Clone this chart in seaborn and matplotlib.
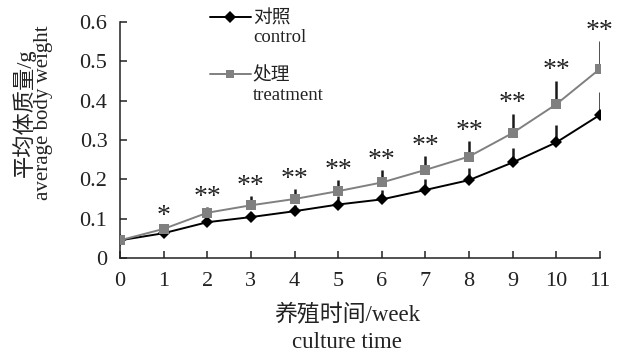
import numpy as np
import pandas as pd
import seaborn as sns
import matplotlib
matplotlib.use("Agg")
import matplotlib.pyplot as plt
from matplotlib.lines import Line2D
from matplotlib.ticker import FuncFormatter

# Weekly average body weight (g), mean and upper SD
weeks = [0, 1, 2, 3, 4, 5, 6, 7, 8, 9, 10, 11]
control = [0.045, 0.063, 0.091, 0.104, 0.119, 0.136, 0.149, 0.173, 0.198, 0.243, 0.294, 0.364]
treatment = [0.045, 0.074, 0.115, 0.134, 0.150, 0.170, 0.192, 0.224, 0.258, 0.318, 0.391, 0.481]
control_sd = [0.0, 0.006, 0.010, 0.012, 0.015, 0.021, 0.024, 0.028, 0.030, 0.036, 0.044, 0.059]
treatment_sd = [0.0, 0.008, 0.014, 0.023, 0.025, 0.028, 0.032, 0.036, 0.040, 0.049, 0.060, 0.070]
significance = ["", "*", "**", "**", "**", "**", "**", "**", "**", "**", "**", "**"]

group_names = ["对照", "处理"]
group_en = ["control", "treatment"]
y_ticks = [0, 0.1, 0.2, 0.3, 0.4, 0.5, 0.6]

sns.set_theme(style="ticks")
plt.rcParams["font.family"] = ["Liberation Serif", "Noto Sans CJK SC"]
plt.rcParams["axes.unicode_minus"] = False

df = pd.DataFrame({
    "week": weeks * 2,
    "weight": control + treatment,
    "group": [group_names[0]] * len(weeks) + [group_names[1]] * len(weeks),
})

fig = plt.figure(figsize=(6.21, 3.55), dpi=100)
ax = fig.add_axes([120 / 621, 1 - 258 / 355, 480 / 621, 236 / 355])

colors = {group_names[0]: "#000000", group_names[1]: "#808080"}
markers = {group_names[0]: "D", group_names[1]: "s"}

# upper-only SD bars, drawn beneath the markers
ax.errorbar(weeks, control, yerr=[np.zeros(len(weeks)), control_sd], fmt="none",
            ecolor="#1a1a1a", elinewidth=1.8, capsize=0, zorder=1.5)
ax.errorbar(weeks, treatment, yerr=[np.zeros(len(weeks)), treatment_sd], fmt="none",
            ecolor="#1a1a1a", elinewidth=1.8, capsize=0, zorder=1.5)

sns.lineplot(data=df, x="week", y="weight", hue="group", style="group",
             palette=colors, markers=markers, dashes=False, linewidth=1.4,
             markersize=6.5, markeredgewidth=0, legend=False, ax=ax, zorder=3)

# significance marks above the treatment bars
for w, m, s, sig in zip(weeks, treatment, treatment_sd, significance):
    if sig:
        ax.annotate(sig, xy=(w, m + s), xytext=(0, 7),
                    textcoords="offset points", ha="center", va="center",
                    fontsize=20, color="#222222")

ax.set_xlim(0, 11)
ax.set_ylim(0, 0.6)
ax.set_xticks(weeks)
ax.set_yticks(y_ticks)
ax.yaxis.set_major_formatter(FuncFormatter(lambda v, p: "0" if abs(v) < 1e-9 else f"{v:.1f}"))

for side in ["top", "right"]:
    ax.spines[side].set_visible(False)
for side in ["left", "bottom"]:
    ax.spines[side].set_linewidth(1.1)
    ax.spines[side].set_color("#222222")
ax.tick_params(axis="both", direction="in", length=5, width=1.1, color="#222222",
               labelsize=16, labelcolor="#222222")
ax.tick_params(axis="x", pad=10)
ax.tick_params(axis="y", pad=9)

ax.set_xlabel("养殖时间/week\nculture time", fontsize=16.5, color="#222222", linespacing=1.35)
ax.xaxis.set_label_coords(0.473, -0.195)
ax.xaxis.label.set_va("top")
ax.set_ylabel("")

# two-line y axis title: Chinese name above, English below
fig.text(24 / 621, 1 - 113 / 355, "平均体质量/g", rotation=90, ha="center", va="center",
         fontsize=16, color="#222222")
fig.text(44 / 621, 1 - 113 / 355, "average body weight", rotation=90, ha="center", va="center",
         fontsize=15, color="#222222")

# legend: symbol beside the Chinese name, English name on the line below
h_c = Line2D([], [], color="#000000", marker="D", markersize=6, linewidth=1.4, markeredgewidth=0)
h_t = Line2D([], [], color="#808080", marker="s", markersize=6, linewidth=1.4, markeredgewidth=0)
blank = Line2D([], [], linestyle="none", marker="none")
leg = ax.legend([h_c, blank, blank, h_t, blank],
                [group_names[0], group_en[0], "", group_names[1], group_en[1]],
                loc="upper left", bbox_to_anchor=(0.187, 1.05), frameon=False,
                fontsize=13.5, handlelength=2.2, handletextpad=0.1, labelspacing=0.1,
                borderpad=0, borderaxespad=0)
for t in leg.get_texts():
    t.set_color("#222222")

fig.savefig("out.png", dpi=100)
